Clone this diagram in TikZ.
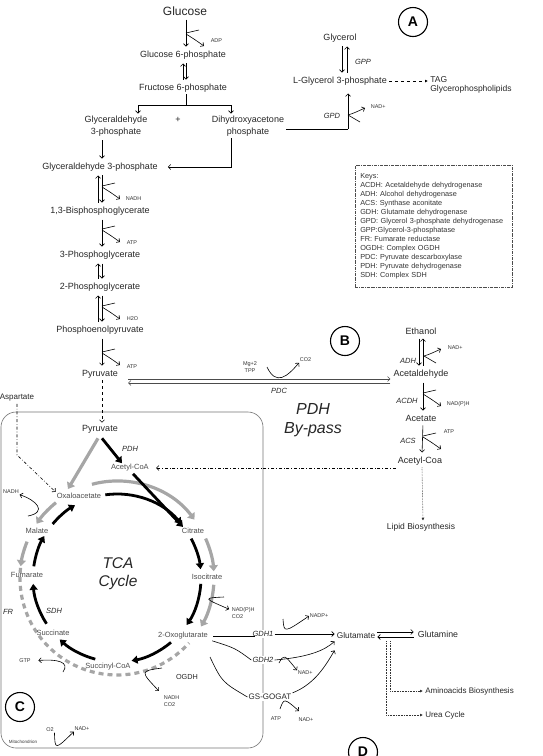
\documentclass[tikz,border=0pt]{standalone}
\usepackage{fontspec}
\setmainfont{Liberation Sans}
\usetikzlibrary{arrows.meta, calc, positioning}

\tikzset{
  met/.style={font=\fontsize{9}{12}\selectfont, inner sep=2pt, text=black!85},
  tcam/.style={font=\fontsize{7.5}{9}\selectfont, inner sep=1pt, text=black!70},
  cof/.style={font=\fontsize{5.5}{7}\selectfont, inner sep=0.5pt, text=black!80},
  enz/.style={font=\fontsize{7.5}{9}\selectfont\itshape, inner sep=1pt, text=black!85},
  lettr/.style={draw, circle, line width=1.1pt, minimum size=29pt, inner sep=0pt,
    font=\fontsize{14}{14}\selectfont\bfseries},
  flow/.style={->, shorten <=2pt, shorten >=2pt},
  dotarr/.style={densely dotted, -{Latex[length=3pt,width=3pt]}, black!80},
  dasharr/.style={dashed, -{Latex[length=3pt,width=3pt]}},
  dotdash/.style={dash pattern=on 3pt off 2pt on 0.6pt off 2pt, ->},
  blk/.style={line width=2.8pt, -{Triangle[length=6pt,width=8pt]}},
  gry/.style={line width=3.2pt, black!35, -{Triangle[length=6pt,width=9pt]}},
  grydash/.style={line width=3.2pt, black!35, dash pattern=on 5pt off 4pt},
  cofout/.pic={\draw (0,0) -- (13,-3); \draw[->] (0,1) .. controls (8,6) .. (18,13);},
  cofin/.pic={\draw[->] (0,0) .. controls (6,-2) .. (17,-7); \draw (0,0) -- (12,7);}
}

\begin{document}
\begin{tikzpicture}[x=1pt, y=-1pt, line width=0.6pt, >={Straight Barb[length=2.5pt,width=5pt]}]
  \useasboundingbox (0,0) rectangle (543,756);
  \clip (0,0) rectangle (543,756);

  % ----- Glycolysis -----
  \node[met, font=\fontsize{12}{14}\selectfont] (glc) at (185,11) {Glucose};
  \node[met] (g6p) at (183,55) {Glucose 6-phosphate};
  \node[met] (f6p) at (183,88) {Fructose 6-phosphate};
  \node[met, align=center] (gap) at (116,126) {Glyceraldehyde\\3-phosphate};
  \node[met] (plus) at (178,120) {+};
  \node[met, align=center] (dhap) at (248,126) {Dihydroxyacetone\\phosphate};
  \node[met] (g3p) at (100,167) {Glyceraldehyde 3-phosphate};
  \node[met] (bpg) at (100,211) {1,3-Bisphosphoglycerate};
  \node[met] (pg3) at (100,255) {3-Phosphoglycerate};
  \node[met] (pg2) at (100,287) {2-Phosphoglycerate};
  \node[met] (pep) at (100,330) {Phosphoenolpyruvate};
  \node[met] (pyr) at (100,374) {Pyruvate};

  \draw[flow] ([xshift=1pt]glc.south) -- ([xshift=3pt]g6p.north);
  \pic at (186,33) {cofout};
  \node[cof, anchor=west] (adp) at (210,41) {ADP};
  \draw[flow] ([xshift=3pt]g6p.south) -- ([xshift=3pt]f6p.north);
  \draw[flow] (f6p.north) -- (g6p.south);

  \coordinate (split) at (186,105);
  \draw ([xshift=3pt]f6p.south) -- (split);
  \draw[->] (split) -| ([xshift=22pt]gap.north);
  \draw[->] (split) -| ([xshift=-17pt]dhap.north);
  \draw[flow] ([xshift=-14pt]gap.south) -- ([xshift=2pt]g3p.north);
  \draw[->] ([xshift=-17pt]dhap.south) |- ([xshift=8pt]g3p.east);

  \draw[flow] ([xshift=-2pt]bpg.north) -- ([xshift=-2pt]g3p.south);
  \draw[flow] ([xshift=2pt]g3p.south) -- ([xshift=2pt]bpg.north);
  \pic at (102,186) {cofout};
  \node[cof, anchor=west] (nadh1) at (125,199) {NADH};
  \draw[flow] ([xshift=2pt]bpg.south) -- ([xshift=2pt]pg3.north);
  \pic at (102,229) {cofout};
  \node[cof, anchor=west] (atp1) at (126,243) {ATP};
  \draw[flow] ([xshift=-2pt]pg2.north) -- ([xshift=-2pt]pg3.south);
  \draw[flow] ([xshift=2pt]pg3.south) -- ([xshift=2pt]pg2.north);
  \draw[flow] ([xshift=-2pt]pep.north) -- ([xshift=-2pt]pg2.south);
  \draw[flow] ([xshift=2pt]pg2.south) -- ([xshift=2pt]pep.north);
  \pic at (102,306) {cofout};
  \node[cof, anchor=west] (h2o) at (126,319) {H2O};
  \draw[flow] ([xshift=2pt]pep.south) -- ([xshift=2pt]pyr.north);
  \pic at (102,352) {cofout};
  \node[cof, anchor=west] (atp2) at (126,367) {ATP};

  % ----- Glycerol branch (A) -----
  \node[lettr] (cA) at (413,22) {A};
  \node[met] (glyc) at (340,38) {Glycerol};
  \node[met] (lg3p) at (340,81) {L-Glycerol 3-phosphate};
  \node[met, anchor=west, font=\fontsize{8.5}{10}\selectfont] (tag) at (428,80) {TAG};
  \node[met, anchor=west, font=\fontsize{8.5}{10}\selectfont] (gpl) at (428,89) {Glycerophospholipids};
  \draw[flow] ([xshift=2pt]glyc.south) -- ([xshift=2pt]lg3p.north);
  \draw[flow] ([xshift=7pt]lg3p.north) -- ([xshift=7pt]glyc.south);
  \node[enz] (gpp) at (363,62) {GPP};
  \draw[dasharr] (lg3p.east) -- (lg3p.east -| tag.west);
  \coordinate (gpdk) at (348,129);
  \draw (dhap.east |- gpdk) -- (gpdk);
  \draw[->, shorten >=6pt] (gpdk) -- ([xshift=8pt]lg3p.south);
  \node[enz] (gpd) at (332,116) {GPD};
  \pic at (348,115) {cofin};
  \node[cof, anchor=west] (nad1) at (370,107) {NAD+};

  % ----- Keys -----
  \node[draw, black!70, densely dashdotted, anchor=north west, minimum width=157pt,
    minimum height=122pt, text width=147pt, inner sep=5pt, align=left,
    font=\fontsize{7.3}{9}\selectfont, text=black!80] (keys) at (355,165)
    {Keys:\\ACDH: Acetaldehyde dehydrogenase\\ADH: Alcohol dehydrogenase\\
     ACS: Synthase aconitate\\GDH: Glutamate dehydrogenase\\
     GPD: Glycerol 3-phosphate dehydrogenase\\GPP:Glycerol-3-phosphatase\\
     FR: Fumarate reductase\\OGDH: Complex OGDH\\PDC: Pyruvate descarboxylase\\
     PDH: Pyruvate dehydrogenase\\SDH: Complex SDH};

  % ----- PDH by-pass (B) -----
  \node[lettr] (cB) at (345,341) {B};
  \node[met] (ethoh) at (421,331) {Ethanol};
  \node[met] (acald) at (421,374) {Acetaldehyde};
  \node[met] (acet) at (421,418) {Acetate};
  \node[met] (acoar) at (420,461) {Acetyl-Coa};
  \node[met, font=\fontsize{8.5}{10}\selectfont] (lipid) at (421,527) {Lipid Biosynthesis};
  \node[font=\fontsize{16}{19}\selectfont\itshape, align=center, text=black!85] (bypass) at (313,420) {PDH\\By-pass};

  \draw[->, black!70] ($(pyr.east)+(8,5)$) -- ($(acald.west)+(-1,5)$);
  \draw[->, black!70] ($(acald.west)+(-1,9)$) -- ($(pyr.east)+(8,9)$);
  \node[enz] (pdc) at (279,391) {PDC};
  \node[cof] (mg) at (250,364) {Mg+2};
  \node[cof] (tpp) at (250,371) {TPP};
  \node[cof, anchor=west] (co2a) at (299,360) {CO2};
  \coordinate (pdcc) at (267,367);
  \draw[->] (pdcc) .. controls (276,386) and (287,377) .. (co2a.south west);

  \draw[flow] ([xshift=-2pt]ethoh.south) -- ([xshift=-2pt]acald.north);
  \draw[flow] ([xshift=2pt]acald.north) -- ([xshift=2pt]ethoh.south);
  \node[enz] (adh) at (408,361) {ADH};
  \pic at (424,356) {cofin};
  \node[cof, anchor=west] (nad2) at (447,348) {NAD+};
  \draw[flow] ([xshift=2pt]acald.south) -- ([xshift=2pt]acet.north);
  \node[enz] (acdh) at (407,401) {ACDH};
  \pic at (423,393) {cofout};
  \node[cof, anchor=west] (nadph1) at (446,404) {NAD(P)H};
  \draw[flow] ([xshift=2pt]acet.south) -- ([xshift=2pt]acoar.north);
  \node[enz] (acs) at (408,441) {ACS};
  \pic at (423,436) {cofout};
  \node[cof, anchor=west] (atp3) at (443,432) {ATP};
  \draw[dotarr] ([xshift=2pt]acoar.south) -- ([xshift=2pt]lipid.north);

  % ----- Mitochondrion and TCA cycle (C) -----
  \draw[black!55, rounded corners=15pt] (1,412) rectangle (263,748);
  \coordinate (cyc) at (117,578);

  % outer grey arrows first, black ones on top
  \foreach \a/\b in {255/323, 336/356, 4/30, 202/187, 231/214}
    \draw[gry] ($(cyc)+(\a:97)$) arc[start angle=\a, end angle=\b, radius=97];
  \draw[grydash] ($(cyc)+(186:97)$) arc[start angle=186, end angle=42, radius=97];
  \foreach \a/\b in {262/320, 332/354, 4/34, 50/80, 105/133, 147/176, 188/210, 220/240}
    \draw[blk] ($(cyc)+(\a:84)$) arc[start angle=\a, end angle=\b, radius=84];

  \node[met] (pyrm) at (100,429) {Pyruvate};
  \node[tcam] (acoa) at (130,468) {Acetyl-CoA};
  \node[tcam] (oaa) at (79,496) {Oxaloacetate};
  \node[tcam] (cit) at (193,531) {Citrate};
  \node[tcam] (mal) at (37,531) {Malate};
  \node[tcam] (fum) at (27,575) {Fumarate};
  \node[tcam] (iso) at (207,577) {Isocitrate};
  \node[tcam] (ogl) at (183,636) {2-Oxoglutarate};
  \node[tcam] (suc) at (53,633) {Succinate};
  \node[tcam] (sca) at (108,667) {Succinyl-CoA};
  \node[font=\fontsize{15.5}{18}\selectfont\itshape, align=center, text=black!85] (tca) at (118,574) {TCA\\Cycle};

  \draw[gry] ($(pyrm.south)+(-2,3)$) -- ($(oaa.north)+(-11,-3)$);
  \draw[blk] ($(pyrm.south)+(2,3)$) -- ($(acoa.north)+(-8,0)$);
  \draw[blk] ($(acoa.south)+(3,1)$) -- ($(cit.north)+(-10,0)$);
  \node[enz] (pdh) at (130,449) {PDH};
  \node[enz] (sdh) at (54,611) {SDH};
  \node[enz] (fr) at (8,612) {FR};
  \node[tcam, text=black!85, font=\fontsize{7.3}{9}\selectfont] (ogdh) at (187,677) {OGDH};

  \draw[dashed, ->] ([xshift=2pt]pyr.south) -- ([xshift=2pt]pyrm.north);
  \node[met, font=\fontsize{8}{10}\selectfont] (asp) at (17,398) {Aspartate};
  \coordinate (aspk) at (17,455);
  \draw[dotdash] (asp.south) -- (aspk) -- (oaa.north west);
  \draw[dotdash] (acoar.west |- acoa) -- ([xshift=6pt]acoa.east);

  \node[cof] (nadh2) at (11,492) {NADH};
  \coordinate (malc) at (28,516);
  \draw[->] (malc) .. controls (48,512) and (36,500) .. (nadh2.south east);
  \node[cof] (gtp) at (25,661) {GTP};
  \coordinate (gtpc) at (63,672);
  \draw[->, shorten >=7pt] (gtpc) .. controls (70,662) and (58,659) .. (gtp.east);
  \node[cof, anchor=west] (nadph2) at (231,610) {NAD(P)H};
  \node[cof, anchor=west] (co2b) at (231,617) {CO2};
  \coordinate (isoc) at (224,597);
  \draw[->, shorten >=2pt] (isoc) .. controls (203,598) .. (nadph2.west);
  \node[cof, anchor=west] (nadh3) at (163,698) {NADH};
  \node[cof, anchor=west] (co2c) at (163,705) {CO2};
  \coordinate (oglc) at (162,668);
  \draw[->, shorten >=6pt] (oglc) .. controls (140,671) .. (nadh3.north west);

  \node[lettr] (cC) at (20,707) {C};
  \node[cof] (o2) at (50,730) {O2};
  \node[cof] (nad3) at (82,729) {NAD+};
  \draw[->] (o2.south east) .. controls (55,750) .. (nad3.south west);
  \node[cof, font=\fontsize{4.5}{5}\selectfont] (mito) at (23,742) {Mitochondrion};

  % ----- Nitrogen assimilation (D) -----
  \node[enz, fill=white] (gdh1) at (263,634) {GDH1};
  \node[enz, fill=white] (gdh2) at (263,660) {GDH2};
  \node[met, fill=white, inner sep=1pt, font=\fontsize{8}{10}\selectfont] (gsg) at (270,697) {GS-GOGAT};
  \node[met, font=\fontsize{8.3}{10}\selectfont] (glu) at (356,636) {Glutamate};
  \node[met, font=\fontsize{8.8}{10}\selectfont] (gln) at (438,634) {Glutamine};
  \node[met, anchor=west, font=\fontsize{8}{10}\selectfont] (aab) at (423,691) {Aminoacids Biosynthesis};
  \node[met, anchor=west, font=\fontsize{8}{10}\selectfont] (urea) at (423,715) {Urea Cycle};

  \draw ([xshift=4pt]ogl.east) -- ([xshift=4pt]ogl.east -| gdh1.west);
  \draw[->] (gdh1.east) -- (glu.west |- gdh1.east);
  \draw ([xshift=3pt]ogl.south east) .. controls (235,648) .. (gdh2.west);
  \draw[->] (gdh2.east) .. controls (310,657) and (325,650) .. (glu.south west);
  \coordinate (gsk) at (210,657);
  \draw (gsk) .. controls (222,682) .. (gsg.west);
  \draw[->] (gsg.north east) .. controls (315,684) and (326,665) .. ($(glu.south west)+(0,9)$);

  \node[cof, anchor=west] (nadp) at (309,616) {NADP+};
  \coordinate (gdh1c) at (283,619);
  \draw[->] (gdh1c) .. controls (284,633) .. (nadp.west);
  \node[cof, anchor=west] (nad4) at (297,673) {NAD+};
  \coordinate (gdh2c) at (279,663);
  \draw[->] (gdh2c) .. controls (284,654) .. (nad4.north west);
  \node[cof] (atp4) at (276,719) {ATP};
  \node[cof] (nad5) at (306,720) {NAD+};
  \coordinate (gsc) at (280,709);
  \coordinate (gsct) at (299,711);
  \draw[->] (gsc) .. controls (284,698) .. (gsct);

  \draw[->] ($(glu.east)+(0,-4)$) -- ($(gln.west)+(-2,-2)$);
  \draw[->] ($(gln.west)+(-2,3)$) -- ($(glu.east)+(0,1)$);
  \draw[dotarr] ($(glu.south east)+(13,0)$) |- (aab.west);
  \draw[dotarr] ($(glu.south east)+(9,0)$) |- (urea.west);
  \node[lettr] (cD) at (363,752) {D};
\end{tikzpicture}
\end{document}
